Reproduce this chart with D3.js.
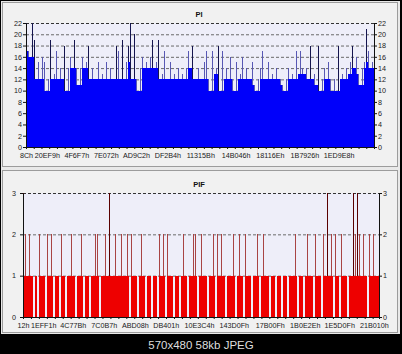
<!DOCTYPE html>
<html>
<head>
<meta charset="utf-8">
<script src="https://cdn.jsdelivr.net/npm/d3@7"></script>
<style>
body { margin: 0; background: #000; }
svg { display: block; }
text { font-family: "Liberation Sans", Arial, sans-serif; }
</style>
</head>
<body>
<div id="chart"></div>
<script>
const width = 402; const height = 354;

// PI errors, one bar per sample along the disc
const piValues = [
  22, 17, 16, 22, 19, 12, 15, 12, 16, 15,
  10, 12, 19, 12, 13, 17, 12, 14, 12, 18,
  10, 14, 16, 14, 19, 14, 11, 14, 16, 14,
  15, 18, 12, 14, 12, 12, 15, 12, 13, 12,
  15, 12, 14, 12, 12, 18, 17, 12, 19, 12,
  15, 18, 22, 12, 20, 12, 10, 14, 16, 14,
  15, 14, 16, 19, 14, 15, 19, 12, 13, 17,
  12, 12, 15, 12, 13, 12, 14, 12, 13, 12,
  14, 17, 14, 18, 12, 12, 14, 12, 12, 15,
  17, 12, 10, 17, 13, 14, 18, 10, 17, 12,
  14, 12, 16, 12, 10, 15, 12, 13, 16, 12,
  14, 12, 12, 15, 11, 10, 12, 14, 17, 12,
  12, 15, 12, 13, 12, 14, 12, 12, 11, 10,
  12, 14, 12, 13, 12, 17, 13, 17, 14, 13,
  14, 12, 18, 12, 13, 11, 18, 10, 12, 14,
  12, 15, 12, 10, 12, 10, 18, 12, 13, 12,
  14, 13, 15, 18, 14, 16, 13, 11, 14, 15,
  21, 17, 14, 15
];
const piYTicks = [0, 2, 4, 6, 8, 10, 12, 14, 16, 18, 20, 22];
const piXTicks = ["8C", "20EF9", "4F6F7", "7E072", "AD9C2", "DF2B4", "11315B", "14B046", "18116E", "1B7926", "1ED9E8"];

// PI failures
const pifValues = [
  3, 2, 1, 2, 1, 0, 1, 0, 2, 1,
  1, 0, 2, 1, 2, 0, 1, 1, 0, 2,
  1, 0, 1, 1, 2, 1, 0, 1, 1, 2,
  0, 1, 1, 0, 1, 1, 2, 2, 0, 1,
  1, 2, 1, 3, 1, 1, 2, 1, 1, 2,
  1, 1, 2, 0, 2, 1, 1, 0, 1, 2,
  1, 0, 1, 1, 0, 1, 1, 0, 2, 1,
  2, 0, 2, 1, 1, 0, 1, 1, 0, 1,
  2, 1, 0, 1, 1, 2, 2, 0, 1, 2,
  1, 1, 0, 1, 1, 2, 0, 2, 1, 2,
  1, 0, 1, 1, 1, 2, 0, 1, 2, 1,
  0, 2, 1, 1, 0, 1, 1, 2, 0, 1,
  2, 1, 1, 0, 1, 1, 0, 1, 1, 0,
  1, 1, 0, 1, 1, 1, 2, 0, 1, 1,
  0, 1, 2, 1, 1, 0, 2, 1, 1, 0,
  2, 1, 3, 1, 2, 0, 2, 1, 0, 2,
  1, 1, 0, 1, 1, 3, 2, 3, 2, 1,
  2, 1, 0, 2, 1, 2, 1, 1
];
const pifYTicks = [0, 1, 2, 3];
const pifXTicks = ["12", "1EFF1", "4C77B", "7C0B7", "ABD08", "DB401", "10E3C4", "143D0F", "17B00F", "1B0E2E", "1E5D0F", "21B010"];

let svg = d3.select('#chart')
    .append('svg')
        .attr('width', width)
        .attr('height', height);

// window frame and the two panels
svg.append('rect')
    .attr('x', 1).attr('y', 1).attr('width', 399).attr('height', 333)
    .attr('fill', '#e9e9e9');
[[2.5, 164], [170.5, 162]].forEach(function(p){
    svg.append('rect')
        .attr('x', 2.5).attr('y', p[0]).attr('width', 395).attr('height', p[1])
        .attr('fill', '#f1f1f1')
        .attr('stroke', '#9c9c9c');
});

function drawPanel(cfg){
    const g = svg.append('g');
    const y = d3.scaleLinear().domain([0, cfg.yMax]).range([cfg.bottom, cfg.top]);
    const xLba = d3.scaleLinear().domain([0, cfg.lbaEnd]).range([cfg.left, cfg.right]);
    const xBar = d3.scaleBand().domain(d3.range(cfg.values.length)).range([cfg.left, cfg.right]);

    // plot background
    g.append('rect')
        .attr('x', cfg.left).attr('y', cfg.top)
        .attr('width', cfg.right - cfg.left).attr('height', cfg.bottom - cfg.top)
        .attr('fill', '#eeeef9');

    // dashed grid
    g.append('g')
        .selectAll('line')
        .data(cfg.yTicks.filter(d => d > 0))
        .join('line')
            .attr('x1', cfg.left).attr('x2', cfg.right)
            .attr('y1', d => y(d) + 0.5).attr('y2', d => y(d) + 0.5)
            .attr('stroke', d => d === cfg.yMax ? '#333' : '#6a6a6a')
            .attr('stroke-dasharray', '3,2');

    const vals = cfg.values;
    // solid part of each bar
    g.append('g')
        .attr('shape-rendering', 'crispEdges')
        .selectAll('rect')
        .data(vals)
        .join('rect')
            .attr('x', (d, i) => xBar(i))
            .attr('width', xBar.bandwidth())
            .attr('y', (d, i) => y(cfg.solid(vals, i)))
            .attr('height', (d, i) => cfg.bottom - y(cfg.solid(vals, i)))
            .attr('fill', cfg.color);
    // thin peaks above the solid part
    g.append('g')
        .attr('shape-rendering', 'crispEdges')
        .selectAll('rect')
        .data(vals)
        .join('rect')
            .attr('x', (d, i) => xBar(i))
            .attr('width', 1)
            .attr('y', d => y(d))
            .attr('height', (d, i) => Math.max(0, y(cfg.solid(vals, i)) - y(d)))
            .attr('fill', d => cfg.peakColor(d));

    // axes
    const yLeft = d3.axisLeft(y).tickValues(cfg.yTicks).tickSize(3).tickSizeOuter(0)
        .tickPadding(cfg.padL).tickFormat(d3.format('d'));
    const yRight = d3.axisRight(y).tickValues(cfg.yTicks).tickSize(3).tickSizeOuter(0)
        .tickPadding(1).tickFormat(d3.format('d'));
    const xMinor = d3.axisBottom(xLba).tickValues(d3.range(0, cfg.lbaEnd, 50000)).tickSize(2).tickFormat('');
    const xMajor = d3.axisBottom(xLba)
        .tickValues(cfg.xTicks.map(t => parseInt(t, 16)))
        .tickSize(0).tickSizeOuter(0).tickPadding(6)
        .tickFormat(d => d.toString(16).toUpperCase() + 'h');

    g.append('g').attr('transform', `translate(${cfg.left},0)`).call(yLeft);
    g.append('g').attr('transform', `translate(${cfg.right},0)`).call(yRight);
    g.append('g').attr('transform', `translate(0,${cfg.bottom})`).call(xMinor);
    g.append('g').attr('transform', `translate(0,${cfg.bottom})`).call(xMajor)
        .select('.domain').remove();

    g.selectAll('.tick text').attr('font-size', 7.2).attr('fill', '#1a1a1a')
        .attr('font-family', '"Liberation Sans", Arial, sans-serif');
    g.selectAll('.domain, .tick line').attr('stroke', '#111');

    g.append('text')
        .attr('x', 199).attr('y', cfg.top - 6)
        .attr('text-anchor', 'middle')
        .attr('font-size', 7.5).attr('font-weight', 'bold')
        .attr('fill', '#111')
        .text(cfg.title);
}

drawPanel({
    title: 'PI', values: piValues, yMax: 22, yTicks: piYTicks, xTicks: piXTicks,
    top: 23, bottom: 147, left: 26, right: 374, lbaEnd: 2250000, padL: 1,
    color: '#0000fa',
    // solid blue up to the lowest of the neighbours
    solid: (v, i) => Math.min(v[i], v[Math.max(0, i - 1)], v[Math.min(v.length - 1, i + 1)]),
    peakColor: d => d >= 18 ? '#14144e' : '#5858b4'
});

drawPanel({
    title: 'PIF', values: pifValues, yMax: 3, yTicks: pifYTicks, xTicks: pifXTicks,
    top: 193, bottom: 317, left: 23, right: 379, lbaEnd: 2240000, padL: 4,
    color: '#ee0000',
    solid: (v, i) => Math.min(v[i], 1),
    peakColor: d => d >= 3 ? '#5a0000' : '#a84444'
});

svg.append('text')
    .attr('x', 201).attr('y', 349)
    .attr('text-anchor', 'middle')
    .attr('font-size', 11.5)
    .attr('fill', '#dedede')
    .text('570x480 58kb JPEG');
</script>
</body>
</html>
